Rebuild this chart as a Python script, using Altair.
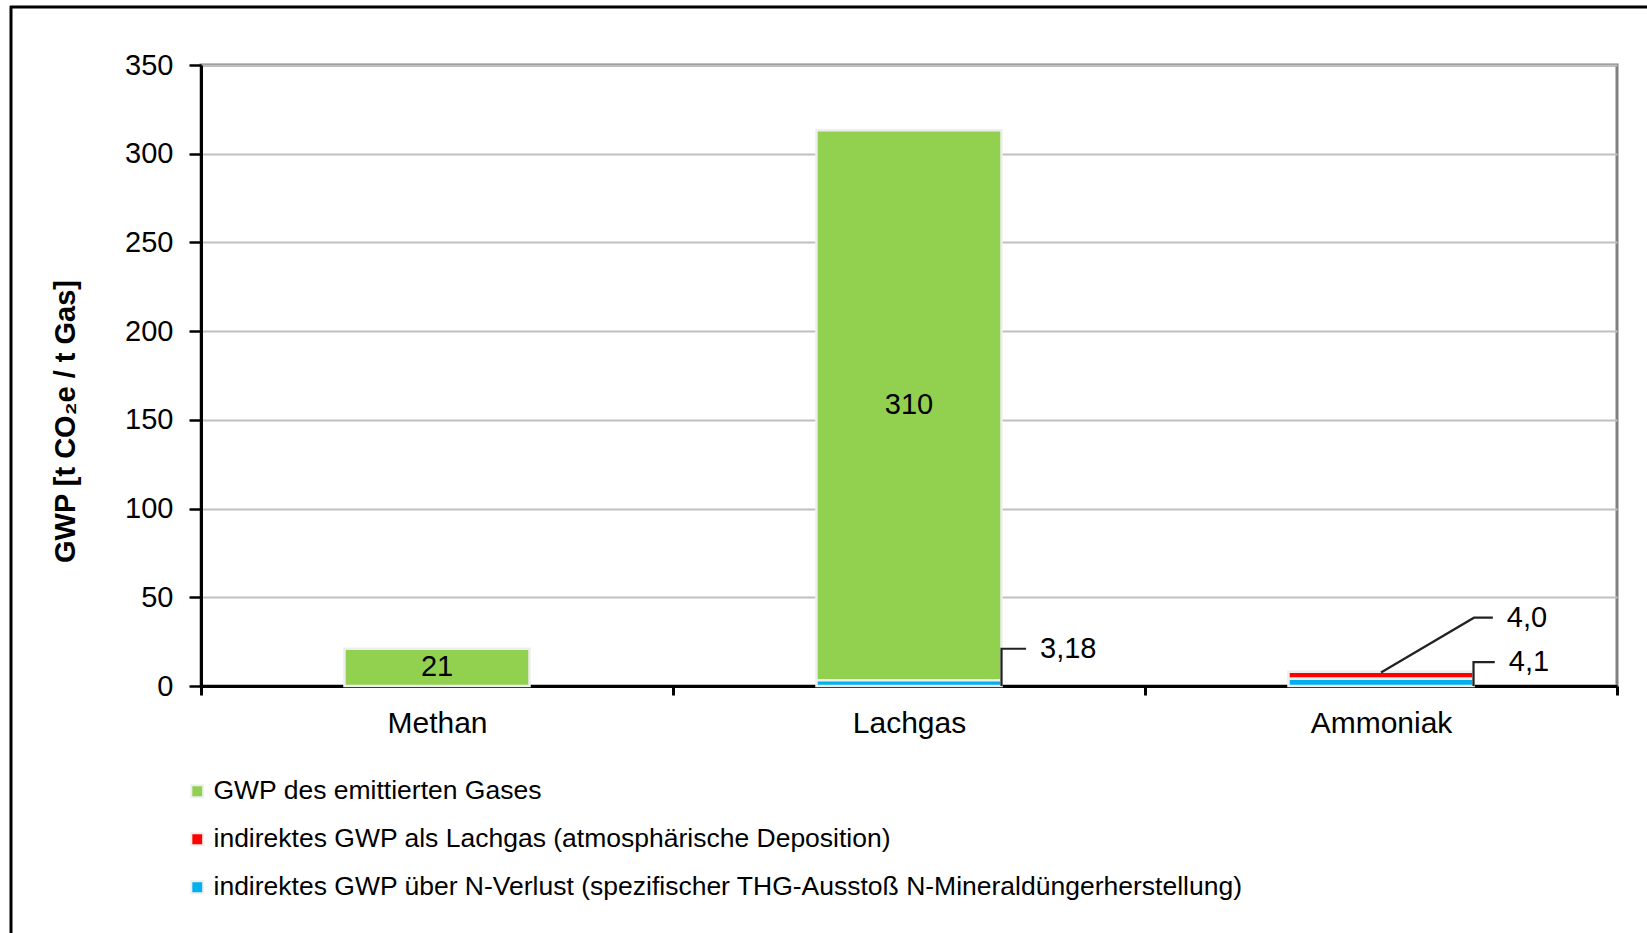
import altair as alt
import pandas as pd

# ---------------- data ----------------
categories = ["Methan", "Lachgas", "Ammoniak"]
series_names = [
    "GWP des emittierten Gases",
    "indirektes GWP als Lachgas (atmosphärische Deposition)",
    "indirektes GWP über N-Verlust (spezifischer THG-Ausstoß N-Mineraldüngerherstellung)",
]
gwp_direct = [21, 310, 0]
gwp_indirect_n2o = [0, 0, 4.0]
gwp_n_loss = [0, 3.18, 4.1]
series_colors = ["#92d050", "#ff0000", "#00b0f0"]
stack_order = [2, 1, 0]  # blue at bottom, red, green on top

# ---------------- layout / style constants ----------------
PLOT_W, PLOT_H = 1416, 621
HALF_BAR = 0.196  # half bar width in category units
FONT = "Liberation Sans"

rows = []
for i, cat in enumerate(categories):
    for s, vals in enumerate([gwp_direct, gwp_indirect_n2o, gwp_n_loss]):
        if vals[i] > 0:
            rows.append({
                "cat": cat,
                "series": series_names[s],
                "value": vals[i],
                "ord": stack_order[s],
                "xl": i + 0.5 - HALF_BAR,
                "xr": i + 0.5 + HALF_BAR,
                "xc": i + 0.5,
                "inside": s == 0,
            })
bars_df = pd.DataFrame(rows)

# external value labels with leader lines (offsets in data units from the anchor)
annotations = [
    # (cat idx, value, decimals, anchor x rel. to bar centre, leader points [(dx, y)])
    (1, gwp_n_loss[1], 2, HALF_BAR, [(0.0, 0.0), (0.0, 21.0), (0.052, 21.0)]),
    (2, gwp_n_loss[2], 1, HALF_BAR, [(0.0, 0.0), (0.0, 13.5), (0.045, 13.5)]),
    (2, gwp_indirect_n2o[2], 1, 0.0, [(0.0, 7.6), (0.197, 38.5), (0.237, 38.5)]),
]
line_rows, text_rows = [], []
for k, (ci, val, dec, ax, pts) in enumerate(annotations):
    base_x = ci + 0.5 + ax
    for j, (dx, yy) in enumerate(pts):
        line_rows.append({"id": k, "j": j, "x": base_x + dx, "y": yy})
    lx, ly = pts[-1]
    text_rows.append({"x": base_x + lx, "y": ly, "label": f"{val:.{dec}f}".replace(".", ",")})
lines_df = pd.DataFrame(line_rows)
texts_df = pd.DataFrame(text_rows)

label_expr = " : ".join(
    [f"datum.value == {i + 0.5} ? '{c}'" for i, c in enumerate(categories)] + ["''"]
)

x_scale = alt.Scale(domain=[0, 3], nice=False, zero=False)
y_scale = alt.Scale(domain=[0, 350], nice=False)

base = alt.Chart(bars_df).transform_stack(
    stack="value", as_=["y0", "y1"], groupby=["cat"], sort=[alt.SortField("ord")]
)

bars = base.mark_bar(stroke="#eeeeee", strokeWidth=2.5).encode(
    x=alt.X(
        "xl:Q",
        scale=x_scale,
        title=None,
        axis=alt.Axis(
            values=[0, 0.5, 1, 1.5, 2, 2.5, 3],
            labelExpr=label_expr,
            labelOverlap=False,
            labelFlush=False,
            labelFont=FONT,
            labelFontSize=30,
            labelColor="black",
            labelPadding=13,
            grid=False,
            domainColor="black",
            domainWidth=3,
            tickColor="black",
            tickWidth=3,
            tickSize=9,
            tickOpacity={"condition": {"test": "datum.value % 1 === 0", "value": 1}, "value": 0},
        ),
    ),
    x2="xr:Q",
    y=alt.Y(
        "y0:Q",
        scale=y_scale,
        axis=alt.Axis(
            values=[0, 50, 100, 150, 200, 250, 300, 350],
            title="GWP [t CO₂e / t Gas]",
            titleFont=FONT,
            titleFontSize=29,
            titleFontWeight="bold",
            titleColor="black",
            titleAngle=-90,
            titleX=-136,
            titleY=356,
            titleAlign="center",
            titleBaseline="middle",
            labelFont=FONT,
            labelFontSize=29,
            labelColor="black",
            labelPadding=16,
            gridColor="#c0c0c0",
            gridWidth=2,
            domainColor="black",
            domainWidth=3,
            tickColor="black",
            tickWidth=2.5,
            tickSize=12,
        ),
    ),
    y2="y1:Q",
    color=alt.Color(
        "series:N",
        scale=alt.Scale(domain=series_names, range=series_colors),
        legend=alt.Legend(
            title=None,
            orient="none",
            legendX=-17,
            legendY=713,
            symbolType="square",
            symbolSize=140,
            symbolStrokeColor="#eeeeee",
            symbolStrokeWidth=2,
            symbolOpacity=1,
            labelFont=FONT,
            labelFontSize=26.5,
            labelColor="black",
            labelOffset=3,
            labelLimit=0,
            rowPadding=21,
        ),
    ),
)

inside_labels = base.transform_filter("datum.inside").transform_calculate(
    mid="(datum.y0 + datum.y1) / 2"
).mark_text(font=FONT, fontSize=29, color="black", baseline="middle", align="center").encode(
    x="xc:Q", y="mid:Q", text="value:Q"
)

leaders = alt.Chart(lines_df).mark_line(color="#222222", strokeWidth=2.2).encode(
    x="x:Q", y="y:Q", detail="id:N", order="j:Q"
)

ext_labels = alt.Chart(texts_df).mark_text(
    font=FONT, fontSize=29, color="black", align="left", baseline="middle", dx=14, dy=0
).encode(x="x:Q", y="y:Q", text="label:N")

frame_df = pd.DataFrame({"a": [0]})
frame_left = alt.Chart(frame_df).mark_rule(color="black", strokeWidth=3).encode(
    x=alt.value(-190), y=alt.value(-59), y2=alt.value(900)
)
frame_top = alt.Chart(frame_df).mark_rule(color="black", strokeWidth=3).encode(
    x=alt.value(-191), x2=alt.value(1500), y=alt.value(-58)
)

chart = alt.layer(bars, inside_labels, leaders, ext_labels, frame_left, frame_top).properties(
    width=PLOT_W,
    height=PLOT_H,
    autosize=alt.AutoSizeParams(type="none"),
    padding={"left": 201, "top": 65, "right": 30, "bottom": 247},
    background="white",
).configure_view(stroke="#808080", strokeWidth=3)

chart.save("out.html", embed_options={"renderer": "svg", "actions": False})
